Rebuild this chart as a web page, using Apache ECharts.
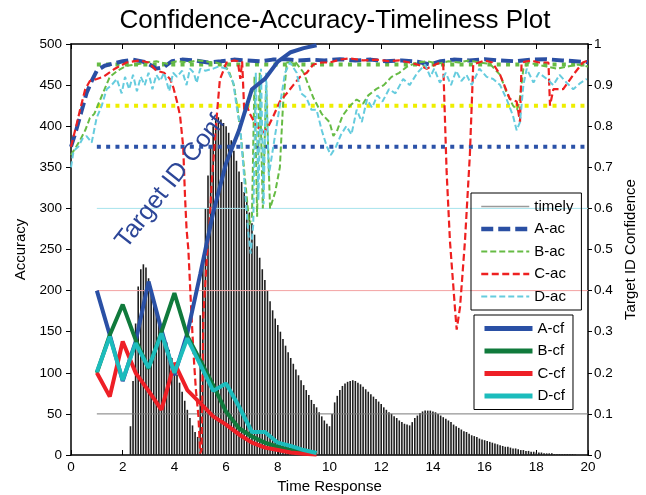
<!DOCTYPE html>
<html lang="en">
<head>
<meta charset="UTF-8">
<title>Confidence-Accuracy-Timeliness Plot</title>
<script src="https://cdn.jsdelivr.net/npm/echarts/dist/echarts.min.js"></script>
<style>
    html, body { margin: 0; padding: 0; background: #fff; }
    #container { width: 646px; height: 495px; }
</style>
</head>
<body>
<div id="container"></div>
<script type="text/javascript">
    var font = 'Liberation Sans, Arial, Helvetica, sans-serif';

    // timely stems, one every 0.1 starting at 2.3 (left axis)
    var timelyStart = 2.3;
    var timelyStep = 0.1;
    var timely = [
        35, 90, 160, 205, 226, 232, 228,
        215, 200, 188, 175, 165, 155, 145, 137, 128, 118,
        108, 98, 88, 77, 66, 55, 45, 36, 28, 22,
        170, 235, 300, 340, 375, 400, 410, 411, 408, 404,
        400, 392, 383, 370, 358, 345, 332, 320, 308, 295,
        282, 268, 254, 240, 226, 213, 200, 187, 176, 166,
        158, 150, 141, 133, 125, 118, 111, 104, 97, 91,
        85, 79, 73, 67, 62, 58, 52, 47, 42, 38,
        35, 50, 64, 72, 79, 84, 87, 89, 90, 91,
        90, 88, 86, 83, 80, 77, 74, 71, 68, 65,
        62, 58, 55, 52, 50, 47, 45, 42, 40, 38,
        37, 36, 40, 45, 48, 51, 53, 54, 54, 54,
        53, 52, 50, 48, 46, 44, 42, 40, 37, 35,
        33, 31, 29, 28, 26, 24, 23, 22, 20, 19,
        18, 17, 16, 15, 14, 13, 12, 11, 10, 10,
        9, 8, 8, 7, 6, 6, 5, 5, 4, 4,
        3, 3, 3, 2, 2, 2, 2, 1, 1, 1,
        1, 1, 1, 1, 1, 0.5
    ];

    // accuracy curves [time, value] (right axis scale)
    var aAc = [[0,0.75],[0.2,0.79],[0.4,0.835],[0.6,0.88],[0.8,0.91],[1.0,0.935],[1.3,0.947],[1.6,0.952],[2.0,0.958],[2.4,0.962],[2.8,0.957],[3.1,0.948],[3.3,0.94],[3.6,0.944],[3.9,0.958],[4.3,0.962],[4.8,0.96],[5.3,0.955],[5.8,0.958],[6.3,0.962],[6.8,0.96],[7.3,0.958],[7.8,0.962],[8.3,0.963],[8.8,0.96],[9.3,0.962],[9.8,0.96],[10.4,0.963],[11,0.96],[11.6,0.962],[12.2,0.958],[12.8,0.96],[13.4,0.957],[13.9,0.95],[14.3,0.958],[14.8,0.962],[15.4,0.96],[16,0.963],[16.6,0.96],[17.2,0.958],[17.8,0.962],[18.4,0.963],[19,0.96],[19.5,0.958],[20,0.956]];
    var bAc = [[0,0.73],[0.2,0.75],[0.35,0.766],[0.55,0.79],[0.73,0.82],[0.9,0.83],[1.1,0.86],[1.3,0.89],[1.5,0.92],[1.8,0.935],[2.15,0.947],[2.5,0.95],[2.9,0.955],[3.3,0.958],[3.7,0.952],[4.1,0.958],[4.5,0.955],[4.9,0.96],[5.3,0.957],[5.6,0.955],[5.9,0.95],[6.1,0.935],[6.3,0.9],[6.45,0.84],[6.6,0.76],[6.75,0.66],[6.9,0.56],[7.0,0.58],[7.1,0.92],[7.2,0.58],[7.3,0.93],[7.42,0.6],[7.55,0.9],[7.7,0.6],[7.9,0.64],[8.08,0.7],[8.2,0.85],[8.35,0.955],[8.7,0.955],[9.0,0.93],[9.37,0.87],[9.7,0.83],[10.0,0.81],[10.15,0.776],[10.3,0.79],[10.5,0.825],[10.8,0.85],[11.05,0.865],[11.3,0.855],[11.5,0.875],[11.8,0.89],[12.1,0.9],[12.4,0.92],[12.7,0.93],[13.0,0.945],[13.4,0.955],[13.8,0.958],[14.2,0.952],[14.6,0.958],[15.0,0.955],[15.4,0.96],[15.8,0.955],[16.2,0.952],[16.6,0.925],[16.85,0.882],[17.1,0.85],[17.25,0.84],[17.35,0.86],[17.5,0.94],[17.7,0.955],[18.0,0.95],[18.4,0.945],[18.8,0.94],[19.2,0.945],[19.6,0.95],[20,0.945]];
    var cAc = [[0,0.75],[0.2,0.8],[0.35,0.84],[0.55,0.89],[0.73,0.91],[1.0,0.915],[1.25,0.92],[1.7,0.94],[2.15,0.955],[2.67,0.96],[3.0,0.955],[3.3,0.935],[3.6,0.93],[3.83,0.915],[3.96,0.894],[4.1,0.86],[4.22,0.825],[4.34,0.75],[4.41,0.63],[4.47,0.55],[4.54,0.5],[4.63,0.38],[4.73,0.256],[4.83,0.16],[4.93,0.094],[5.0,0.004],[5.05,0.012],[5.12,0.338],[5.25,0.476],[5.35,0.55],[5.44,0.66],[5.64,0.826],[5.76,0.914],[6.02,0.955],[6.3,0.96],[6.45,0.958],[6.55,0.915],[6.62,0.958],[6.7,0.84],[6.8,0.85],[6.92,0.83],[7.18,0.8],[7.44,0.785],[7.6,0.795],[7.83,0.825],[8.08,0.86],[8.35,0.88],[8.6,0.9],[8.86,0.92],[9.12,0.93],[9.37,0.95],[9.7,0.955],[10.0,0.955],[10.4,0.962],[10.8,0.965],[11.3,0.96],[11.8,0.962],[12.3,0.958],[12.7,0.96],[13.1,0.955],[13.5,0.948],[13.76,0.94],[14.1,0.95],[14.3,0.955],[14.4,0.95],[14.53,0.69],[14.66,0.52],[14.85,0.36],[14.92,0.305],[15.05,0.36],[15.24,0.52],[15.43,0.73],[15.56,0.95],[16.0,0.96],[16.3,0.955],[16.6,0.925],[16.98,0.866],[17.24,0.86],[17.37,0.81],[17.43,0.955],[17.8,0.96],[18.1,0.955],[18.47,0.955],[18.53,0.85],[18.66,0.89],[19.04,0.89],[19.43,0.925],[19.8,0.955],[20,0.96]];
    var dAc = [[0,0.7],[0.1,0.74],[0.28,0.75],[0.45,0.77],[0.6,0.776],[0.8,0.76],[0.99,0.82],[1.19,0.85],[1.38,0.89],[1.57,0.9],[1.77,0.915],[1.96,0.88],[2.09,0.92],[2.25,0.89],[2.4,0.925],[2.55,0.885],[2.7,0.92],[2.85,0.9],[3.0,0.93],[3.15,0.89],[3.3,0.925],[3.45,0.91],[3.6,0.93],[3.8,0.885],[3.95,0.93],[4.1,0.92],[4.3,0.935],[4.47,0.9],[4.6,0.94],[4.75,0.93],[4.86,0.905],[5.0,0.94],[5.2,0.935],[5.5,0.94],[5.7,0.945],[6.02,0.94],[6.28,0.906],[6.4,0.85],[6.54,0.8],[6.67,0.7],[6.76,0.62],[6.86,0.54],[6.95,0.49],[7.05,0.56],[7.15,0.93],[7.25,0.62],[7.35,0.94],[7.45,0.61],[7.55,0.93],[7.65,0.68],[7.75,0.72],[7.9,0.78],[8.08,0.85],[8.28,0.93],[8.47,0.955],[8.73,0.93],[8.9,0.88],[9.1,0.87],[9.3,0.84],[9.5,0.84],[9.7,0.79],[9.9,0.75],[10.05,0.73],[10.25,0.75],[10.45,0.78],[10.65,0.8],[10.85,0.78],[11.05,0.84],[11.25,0.81],[11.45,0.865],[11.65,0.845],[11.85,0.875],[12.05,0.86],[12.3,0.89],[12.55,0.88],[12.85,0.915],[13.1,0.9],[13.4,0.93],[13.7,0.95],[13.9,0.92],[14.05,0.94],[14.27,0.906],[14.5,0.93],[14.7,0.9],[14.9,0.935],[15.1,0.91],[15.3,0.925],[15.5,0.9],[15.8,0.94],[16.08,0.92],[16.33,0.915],[16.6,0.9],[16.85,0.866],[17.1,0.825],[17.24,0.79],[17.37,0.81],[17.5,0.9],[17.63,0.94],[17.89,0.906],[18.1,0.93],[18.4,0.915],[18.66,0.9],[18.9,0.925],[19.17,0.906],[19.43,0.89],[19.7,0.905],[19.95,0.915]];

    // target ID confidence curves [time, value]
    var aCf = [[1,0.4],[1.5,0.292],[2,0.18],[2.5,0.276],[3,0.422],[3.5,0.304],[4,0.194],[4.5,0.296],[5,0.44],[5.5,0.59],[6,0.71],[6.5,0.79],[7,0.89],[7.5,0.915],[8,0.957],[8.5,0.98],[9,0.99],[9.5,0.997]];
    var bCf = [[1,0.2],[1.5,0.292],[2,0.366],[2.5,0.28],[3,0.21],[3.5,0.3],[4,0.394],[4.5,0.29],[5,0.23],[5.5,0.17],[6,0.105],[6.5,0.065],[7,0.045],[7.5,0.03],[8,0.02],[8.5,0.012],[9,0.007],[9.5,0.004]];
    var cCf = [[1,0.2],[1.5,0.142],[2,0.276],[2.5,0.2],[3,0.156],[3.5,0.11],[4,0.224],[4.5,0.158],[5,0.126],[5.5,0.094],[6,0.074],[6.5,0.05],[7,0.03],[7.5,0.018],[8,0.012],[8.5,0.006],[9,0.003],[9.5,0.001]];
    var dCf = [[1,0.202],[1.5,0.288],[2,0.182],[2.5,0.272],[3,0.212],[3.5,0.296],[4,0.2],[4.5,0.284],[5,0.22],[5.5,0.156],[6,0.174],[6.5,0.118],[7,0.056],[7.5,0.056],[8,0.03],[8.5,0.022],[9,0.012],[9.5,0.005]];

    // threshold levels drawn from t=1 to t=20
    var refLevels = [0.1, 0.4, 0.6, 0.75, 0.85, 0.95];
    var refFrom = 1;
    var refTo = 20;
    var refStyles = [
        { color: '#7a7a7a', width: 1, type: 'solid' },
        { color: '#f3a3a3', width: 1, type: 'solid' },
        { color: '#a6e3ec', width: 1, type: 'solid' },
        { color: '#2b52a8', width: 4, type: [4, 5.3] },
        { color: '#eeee00', width: 4, type: [4, 5.3] },
        { color: '#66bb44', width: 4, type: [4, 5.3] }
    ];

    var timelyData = timely.map(function (v, i) {
        return [+(timelyStart + i * timelyStep).toFixed(1), v];
    });

    function curve(name, data, color, width, type) {
        return {
            name: name, type: 'line', xAxisIndex: 0, yAxisIndex: 1,
            data: data, symbol: 'none', showSymbol: false,
            lineStyle: { color: color, width: width, type: type, cap: 'butt' },
            itemStyle: { color: color }
        };
    }

    var series = [{
        name: 'timely', type: 'bar', xAxisIndex: 0, yAxisIndex: 0,
        data: timelyData, barWidth: 1.6,
        itemStyle: { color: '#1e1e1e' }
    }];
    refLevels.forEach(function (lv, i) {
        series.push({
            name: 'ref' + i, type: 'line', xAxisIndex: 0, yAxisIndex: 1,
            data: [[refFrom, lv], [refTo, lv]], symbol: 'none', silent: true,
            lineStyle: { color: refStyles[i].color, width: refStyles[i].width, type: refStyles[i].type, cap: 'butt' }
        });
    });
    series.push(curve('A-ac', aAc, '#2a4fa3', 4, [12, 5]));
    series.push(curve('B-ac', bAc, '#66bb44', 2, [6, 3]));
    series.push(curve('C-ac', cAc, '#ee2020', 2.2, [7, 3.5]));
    series.push(curve('D-ac', dAc, '#66ccde', 2, [6, 3]));
    series.push(curve('A-cf', aCf, '#2a50a5', 4, 'solid'));
    series.push(curve('B-cf', bCf, '#107a3c', 4, 'solid'));
    series.push(curve('C-cf', cCf, '#ee1f26', 4, 'solid'));
    series.push(curve('D-cf', dCf, '#1cbcbc', 4, 'solid'));

    var axisText = { fontSize: 13.5, color: '#000', fontFamily: font };
    var nameText = { fontSize: 15, color: '#000', fontFamily: font };
    var legendBase = {
        orient: 'vertical', itemWidth: 48, itemHeight: 14, itemGap: 7.5,
        padding: [6, 8, 6, 8], borderColor: '#000', borderWidth: 1,
        itemStyle: { opacity: 0 },
        textStyle: { fontSize: 15, color: '#000', fontFamily: font }
    };

    var myChart = echarts.init(document.getElementById('container'), null, { renderer: 'canvas' });
    var option = {
        animation: false,
        backgroundColor: '#fff',
        title: {
            text: 'Confidence-Accuracy-Timeliness Plot',
            left: 330, top: 3, textAlign: 'center',
            textStyle: { fontSize: 26, fontWeight: 'normal', color: '#000', fontFamily: font }
        },
        legend: [
            Object.assign({}, legendBase, {
                left: 471, top: 193,
                data: [
                    { name: 'timely', icon: 'path://M0,0 L48,0 L48,1.3 L0,1.3 Z', itemStyle: { color: '#9a9a9a', opacity: 1 } },
                    { name: 'A-ac', lineStyle: { width: 4.5 } },
                    { name: 'B-ac', lineStyle: { width: 2 } },
                    { name: 'C-ac', lineStyle: { width: 2.5 } },
                    { name: 'D-ac', lineStyle: { width: 2 } }
                ]
            }),
            Object.assign({}, legendBase, {
                left: 474, top: 315,
                lineStyle: { width: 5 },
                data: ['A-cf', 'B-cf', 'C-cf', 'D-cf']
            })
        ],
        grid: { left: 71, right: 58, top: 44, bottom: 40, outerBoundsMode: 'none', containLabel: false },
        xAxis: [{
            type: 'value', min: 0, max: 20, interval: 2, position: 'bottom',
            name: 'Time Response', nameLocation: 'middle', nameGap: 24, nameTextStyle: nameText,
            axisLine: { onZero: false, lineStyle: { color: '#000', width: 1.5 } },
            axisTick: { inside: true, length: 5, lineStyle: { color: '#000' } },
            axisLabel: Object.assign({ margin: 5 }, axisText),
            splitLine: { show: false }
        }, {
            type: 'value', min: 0, max: 20, interval: 2, position: 'top',
            axisLine: { onZero: false, lineStyle: { color: '#000', width: 1.5 } },
            axisTick: { inside: true, length: 5, lineStyle: { color: '#000' } },
            axisLabel: { show: false },
            splitLine: { show: false }
        }],
        yAxis: [{
            type: 'value', min: 0, max: 500, interval: 50, position: 'left',
            name: 'Accuracy', nameLocation: 'middle', nameGap: 42, nameRotate: 90, nameTextStyle: nameText,
            axisLine: { show: true, onZero: false, lineStyle: { color: '#000', width: 1.5 } },
            axisTick: { show: true, length: 5, lineStyle: { color: '#000' } },
            axisLabel: Object.assign({ margin: 9 }, axisText),
            splitLine: { show: false }
        }, {
            type: 'value', min: 0, max: 1, interval: 0.1, position: 'right',
            name: 'Target ID Confidence', nameLocation: 'middle', nameGap: 30, nameRotate: 90, nameTextStyle: nameText,
            axisLine: { show: true, onZero: false, lineStyle: { color: '#000', width: 1.5 } },
            axisTick: { show: true, length: 4, lineStyle: { color: '#000' } },
            axisLabel: Object.assign({ margin: 6 }, axisText),
            splitLine: { show: false }
        }],
        series: series
    };
    myChart.setOption(option);

    // rotated annotation next to the A-cf curve
    var aCfIndex = series.length - 4;
    var p = myChart.convertToPixel({ seriesIndex: aCfIndex }, [3.85, 0.665]);
    myChart.setOption({
        graphic: [{
            type: 'text', x: p[0], y: p[1], rotation: 52 * Math.PI / 180, z: 100,
            style: { text: 'Target ID Conf', fill: '#2c4698', font: '25px ' + font, align: 'center', verticalAlign: 'middle' }
        }]
    });

    window.addEventListener('resize', myChart.resize);
</script>
</body>
</html>
